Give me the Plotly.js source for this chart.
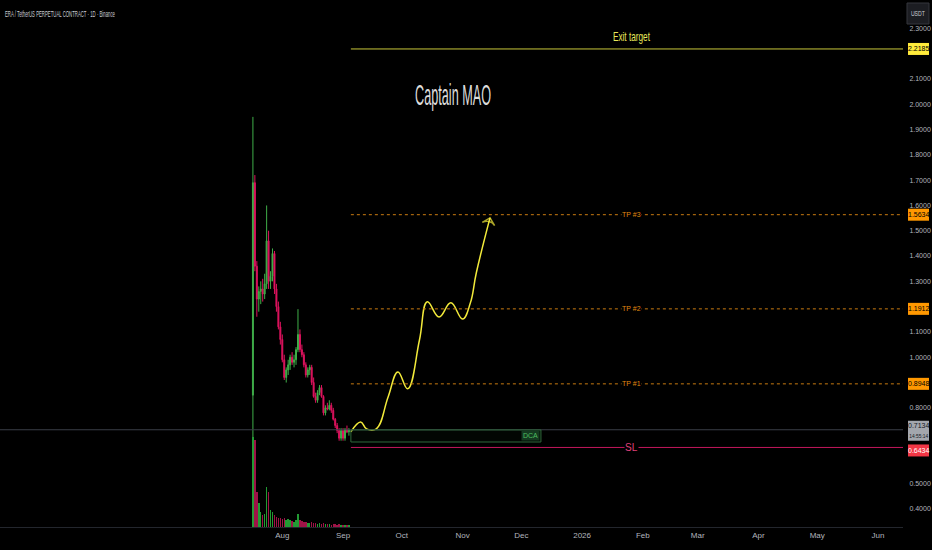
<!DOCTYPE html>
<html><head><meta charset="utf-8">
<script src="https://cdn.plot.ly/plotly-3.0.1.min.js"></script>
<style>html,body{margin:0;padding:0;background:#000;}#chart{width:932px;height:550px;}</style>
</head><body><div id="chart"></div>
<script>
// ---- daily candles ----
const dates = ['2025-07-17','2025-07-18','2025-07-19','2025-07-20','2025-07-21','2025-07-22','2025-07-23','2025-07-24','2025-07-25','2025-07-26','2025-07-27','2025-07-28','2025-07-29','2025-07-30','2025-07-31',
'2025-08-01','2025-08-02','2025-08-03','2025-08-04','2025-08-05','2025-08-06','2025-08-07','2025-08-08','2025-08-09','2025-08-10','2025-08-11','2025-08-12','2025-08-13','2025-08-14','2025-08-15','2025-08-16','2025-08-17','2025-08-18','2025-08-19','2025-08-20','2025-08-21','2025-08-22','2025-08-23','2025-08-24','2025-08-25','2025-08-26','2025-08-27','2025-08-28','2025-08-29','2025-08-30','2025-08-31',
'2025-09-01','2025-09-02','2025-09-03','2025-09-04'];
const opens  = [0.85,1.69,1.36,1.23,1.26,1.27,1.25,1.29,1.46,1.30,1.32,1.41,1.27,1.20,1.12,1.07,0.99,0.92,0.95,0.97,1.00,0.98,0.99,1.03,1.09,1.03,1.01,0.97,0.93,0.95,0.96,0.90,0.845,0.83,0.86,0.88,0.845,0.78,0.80,0.795,0.81,0.79,0.755,0.73,0.71,0.68,0.71,0.68,0.715,0.705];
const highs  = [1.95,1.72,1.38,1.28,1.30,1.31,1.33,1.60,1.50,1.34,1.43,1.42,1.29,1.22,1.14,1.09,1.01,0.96,0.99,1.01,1.02,1.01,1.04,1.19,1.11,1.05,1.02,0.98,0.96,0.97,0.97,0.92,0.86,0.87,0.89,0.89,0.85,0.81,0.82,0.83,0.82,0.80,0.76,0.74,0.72,0.72,0.72,0.72,0.73,0.72];
const lows   = [0.38,1.34,1.16,1.18,1.21,1.22,1.23,1.27,1.27,1.27,1.30,1.25,1.18,1.11,1.05,0.98,0.91,0.90,0.93,0.95,0.97,0.96,0.97,1.02,1.02,1.00,0.96,0.92,0.92,0.93,0.89,0.84,0.82,0.82,0.85,0.84,0.77,0.77,0.79,0.79,0.78,0.75,0.72,0.70,0.67,0.67,0.67,0.67,0.70,0.69];
const closes = [1.69,1.36,1.23,1.26,1.27,1.25,1.29,1.46,1.30,1.32,1.41,1.27,1.20,1.12,1.07,0.99,0.92,0.95,0.97,1.00,0.98,0.99,1.03,1.09,1.03,1.01,0.97,0.93,0.95,0.96,0.90,0.845,0.83,0.86,0.88,0.845,0.78,0.80,0.795,0.81,0.79,0.755,0.73,0.71,0.68,0.71,0.68,0.715,0.705,0.7134];
const volumes = [17,16.5,6.6,4.6,2.8,2.3,2.5,7.6,6.6,3.2,2.8,2.2,1.9,1.8,1.7,1.6,1.7,1.4,1.5,1.3,1.1,1.0,1.3,2.5,1.4,1.1,1.0,0.9,0.8,0.8,0.9,0.8,0.7,0.6,0.7,0.6,0.7,0.5,0.5,0.5,0.4,0.5,0.5,0.4,0.5,0.4,0.4,0.35,0.3,0.3];

// ---- projected path (drawing) ----
const pathDates = ['2025-09-05','2025-09-10','2025-09-13','2025-09-18','2025-09-24','2025-09-29','2025-10-04','2025-10-10','2025-10-14','2025-10-20','2025-10-26','2025-11-01','2025-11-05','2025-11-08','2025-11-15'];
const pathValues = [0.705,0.744,0.717,0.717,0.843,0.942,0.875,1.068,1.219,1.159,1.215,1.151,1.215,1.333,1.551];

// ---- levels ----
const levelNames  = ['Exit target','TP #3','TP #2','TP #1','SL'];
const levelValues = [2.2185,1.5634,1.1912,0.8948,0.6434];
const levelStart = '2025-09-05';
const labelDate = '2026-01-26';
const lastPrice = 0.7134;
const countdown = '14:55:14';
const dcaRange = [0.665, 0.7127];
const dcaEnd = '2025-12-11';
const headerText = 'ERA / TetherUS PERPETUAL CONTRACT · 1D · Binance';
const authorText = 'Captain MAO';
const currencyText = 'USDT';

// ---- axes ----
const xRange = ['2025-03-09 22:00','2026-06-13 19:00'];
const yRange = [0.329, 2.412];
const monthTickVals = ['2025-08-01','2025-09-01','2025-10-01','2025-11-01','2025-12-01','2026-01-01','2026-02-01','2026-03-01','2026-04-01','2026-05-01','2026-06-01'];
const monthTickText = ['Aug','Sep','Oct','Nov','Dec','2026','Feb','Mar','Apr','May','Jun'];
const priceTicks = [0.4,0.5,0.8,1.0,1.1,1.3,1.4,1.5,1.6,1.7,1.8,1.9,2.0,2.1,2.3];

const FONT = '"Liberation Sans","Arimo",Arial,sans-serif';
const UP = '#3fae49', DOWN = '#e0135f';
const VUP = '#229a33', VDOWN = '#9e1347';

const volColors = closes.map((c,i)=> c>=opens[i] ? VUP : VDOWN);

const traces = [
  {type:'bar', x:dates, y:volumes, yaxis:'y2', marker:{color:volColors, line:{width:0}}, width:86400000*0.75, hoverinfo:'skip'},
  {type:'candlestick', x:dates, open:opens, high:highs, low:lows, close:closes,
   increasing:{line:{color:UP,width:1}, fillcolor:UP},
   decreasing:{line:{color:DOWN,width:1}, fillcolor:DOWN},
   whiskerwidth:0, hoverinfo:'skip'},
  {type:'scatter', mode:'lines', x:pathDates, y:pathValues, line:{color:'#f2ea3a', width:1.5, shape:'spline', smoothing:1.2}, hoverinfo:'skip'},
  {type:'scatter', mode:'markers', x:pathDates.slice(-2), y:pathValues.slice(-2),
   marker:{symbol:'arrow-wide-open', angleref:'previous', size:[0,9], color:'#f2ea3a', line:{color:'#f2ea3a', width:1.5}}, hoverinfo:'skip'}
];

const levelColors = ['#c9c63a','#c97a10','#c97a10','#c97a10','#c2185b'];
const levelDash = ['solid','dot','dot','dot','solid'];
const tagColors = ['#ffeb3b','#ff9800','#ff9800','#ff9800','#f23645'];
const tagText = ['#000','#000','#000','#000','#fff'];
const tagShift = [0,0,0,0,-3];

const shapes = [
  {type:'line', xref:'paper', x0:0, x1:1, yref:'y', y0:lastPrice, y1:lastPrice, line:{color:'#3a3e47', width:1}},
  {type:'rect', xref:'x', x0:levelStart, x1:dcaEnd, yref:'y', y0:dcaRange[0], y1:dcaRange[1], fillcolor:'rgba(30,90,45,0.07)', line:{color:'#2f6a3c', width:1}},
];
levelValues.forEach((v,i)=>{
  shapes.push({type:'line', xref:'x', x0:levelStart, x1:xRange[1], yref:'y', y0:v, y1:v, line:{color:levelColors[i], width:1, dash:levelDash[i]}});
});
function tagBox(v, color, down, up){
  return {type:'rect', layer:'above', xref:'paper', xsizemode:'pixel', xanchor:1, x0:5, x1:26,
          yref:'y', ysizemode:'pixel', yanchor:v, y0:down, y1:up, fillcolor:color, line:{width:0}};
}
levelValues.forEach((v,i)=> shapes.push(tagBox(v, tagColors[i], -6+tagShift[i], 6+tagShift[i])));
shapes.push(tagBox(lastPrice, '#a3a6ad', -11, 9));
shapes.push({type:'rect', layer:'above', xref:'paper', xsizemode:'pixel', xanchor:1, x0:4, x1:26,
             yref:'paper', ysizemode:'pixel', yanchor:1, y0:-24, y1:-3, fillcolor:'#1c1d22', line:{color:'#34363d', width:1}});

const annotations = [
  {xref:'paper', yref:'paper', x:0.003, y:0.973, xanchor:'left', yanchor:'middle', showarrow:false,
   text:headerText, font:{family:FONT, size:9, color:'#c9ccd4'}},
  {xref:'x', yref:'y', x:'2025-10-27', y:2.035, showarrow:false, text:authorText, font:{family:FONT, size:29, color:'#dcdcdc'}},
  {xref:'x', yref:'y', x:labelDate, y:levelValues[0], yshift:12, showarrow:false, text:levelNames[0], font:{family:FONT, size:13, color:'#e8e85a'}},
  {xref:'paper', yref:'paper', x:1, xshift:15, xanchor:'center', y:1, yshift:-13.5, yanchor:'middle', showarrow:false, text:currencyText, font:{family:FONT, size:7, color:'#c9ccd4'}},
  {xref:'x', yref:'y', x:dcaEnd, y:(dcaRange[0]+dcaRange[1])/2, xanchor:'right', xshift:-1, showarrow:false, text:'DCA', bgcolor:'#143a20', borderpad:1, font:{family:FONT, size:7, color:'#4fbf60'}},
  {xref:'paper', yref:'y', x:1, xshift:15.5, xanchor:'center', yanchor:'middle', y:lastPrice, yshift:4, showarrow:false, text:lastPrice.toFixed(4), font:{family:FONT, size:7, color:'#131722'}},
  {xref:'paper', yref:'y', x:1, xshift:15.5, xanchor:'center', yanchor:'middle', y:lastPrice, yshift:-6, showarrow:false, text:countdown, font:{family:FONT, size:5.5, color:'#131722'}}
];
for (let i=1;i<levelNames.length;i++){
  annotations.push({xref:'x', yref:'y', x:labelDate, y:levelValues[i], showarrow:false, text:levelNames[i], bgcolor:'#000', borderpad:0,
    font:{family:FONT, size:i===4?10:7, color:i===4?'#e0407a':'#e08a10'}});
}
levelValues.forEach((v,i)=>{
  annotations.push({xref:'paper', yref:'y', x:1, xshift:15.5, xanchor:'center', yanchor:'middle', y:v, yshift:tagShift[i], showarrow:false, text:v.toFixed(4), font:{family:FONT, size:7, color:tagText[i]}});
});

const layout = {
  width:932, height:550,
  margin:{l:0, r:29, t:0, b:23, pad:0},
  paper_bgcolor:'#000', plot_bgcolor:'#000',
  showlegend:false,
  xaxis:{type:'date', range:xRange, rangeslider:{visible:false}, showgrid:false, zeroline:false,
         tickmode:'array', tickvals:monthTickVals, ticktext:monthTickText, ticks:'', ticklen:0,
         tickfont:{family:FONT, size:8, color:'#b2b5be'}, showline:true, linecolor:'#23262d', linewidth:1, fixedrange:true},
  yaxis:{range:yRange, side:'right', showgrid:false, zeroline:false, tickmode:'array', tickvals:priceTicks,
         ticktext:priceTicks.map(v=>v.toFixed(4)), ticks:'outside', ticklen:4, tickcolor:'#000',
         tickfont:{family:FONT, size:7, color:'#b2b5be'}, showline:false, fixedrange:true},
  yaxis2:{overlaying:'y', range:[0,100], visible:false, fixedrange:true},
  shapes:shapes, annotations:annotations,
  bargap:0
};

const condenseMap = [[headerText,110,'left'],[authorText,76,'mid'],[levelNames[0],37,'mid'],[countdown,19,'mid'],[currencyText,14,'mid']];
Plotly.newPlot('chart', traces, layout, {staticPlot:true, displayModeBar:false}).then(()=>{
  document.querySelectorAll('#chart text').forEach(t=>{
    condenseMap.forEach(([s,w,a])=>{
      if (t.textContent===s){
        const bb=t.getBBox();
        const nx = a==='left' ? bb.x : bb.x + bb.width/2 - w/2;
        t.setAttribute('text-anchor','start');
        t.setAttribute('x', nx);
        t.setAttribute('textLength', w);
        t.setAttribute('lengthAdjust','spacingAndGlyphs');
      }
    });
  });
});
</script></body></html>
